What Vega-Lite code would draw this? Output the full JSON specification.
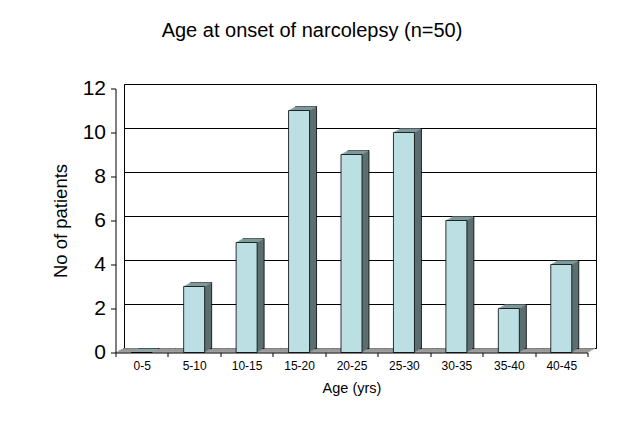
{
  "$schema": "https://vega.github.io/schema/vega-lite/v6.json",
  "width": 472,
  "height": 264,
  "autosize": "none",
  "padding": {"left": 124, "top": 84, "right": 42, "bottom": 77},
  "background": "white",
  "title": {
    "text": "Age at onset of narcolepsy (n=50)",
    "font": "Liberation Sans",
    "fontSize": 20,
    "fontWeight": "normal",
    "color": "black",
    "anchor": "middle",
    "dx": -48,
    "offset": 37
  },
  "data": {
    "values": [
      {"age": "0-5", "n": 0},
      {"age": "5-10", "n": 3},
      {"age": "10-15", "n": 5},
      {"age": "15-20", "n": 11},
      {"age": "20-25", "n": 9},
      {"age": "25-30", "n": 10},
      {"age": "30-35", "n": 6},
      {"age": "35-40", "n": 2},
      {"age": "40-45", "n": 4}
    ]
  },
  "encoding": {
    "x": {
      "field": "age",
      "type": "ordinal",
      "sort": null,
      "scale": {"paddingInner": 0, "paddingOuter": 0},
      "axis": {
        "title": "Age (yrs)",
        "labelAngle": 0,
        "tickBand": "extent",
        "offset": 4.5,
        "position": -8.5,
        "grid": false,
        "domainColor": "black",
        "tickColor": "black",
        "tickSize": 4,
        "labelFont": "Liberation Sans",
        "labelFontSize": 12,
        "labelColor": "black",
        "labelPadding": 4,
        "titleFont": "Liberation Sans",
        "titleFontSize": 14.5,
        "titleFontWeight": "normal",
        "titleColor": "black",
        "titlePadding": 10,
        "zindex": 1
      }
    },
    "y": {
      "field": "n",
      "type": "quantitative",
      "scale": {"domain": [0, 12], "nice": false},
      "axis": null
    }
  },
  "layer": [
    {
      "mark": {"type": "bar", "width": {"band": 1}, "color": "#808080", "xOffset": -7.44, "yOffset": 3.375, "y2Offset": 4.5},
      "encoding": {"y": {"datum": 0, "type": "quantitative", "scale": {"domain": [0, 12], "nice": false}, "axis": null}, "y2": {"datum": 0}}
    },
    {
      "mark": {"type": "bar", "width": {"band": 1}, "color": "#808080", "xOffset": -5.31, "yOffset": 2.25, "y2Offset": 3.375},
      "encoding": {"y": {"datum": 0, "type": "quantitative", "scale": {"domain": [0, 12], "nice": false}, "axis": null}, "y2": {"datum": 0}}
    },
    {
      "mark": {"type": "bar", "width": {"band": 1}, "color": "#808080", "xOffset": -3.19, "yOffset": 1.125, "y2Offset": 2.25},
      "encoding": {"y": {"datum": 0, "type": "quantitative", "scale": {"domain": [0, 12], "nice": false}, "axis": null}, "y2": {"datum": 0}}
    },
    {
      "mark": {"type": "bar", "width": {"band": 1}, "color": "#808080", "xOffset": -1.06, "yOffset": 0, "y2Offset": 1.125},
      "encoding": {"y": {"datum": 0, "type": "quantitative", "scale": {"domain": [0, 12], "nice": false}, "axis": null}, "y2": {"datum": 0}}
    },
    {
      "mark": {"type": "bar", "width": 21, "color": "#5B6F70", "stroke": "black", "strokeWidth": 0.8, "xOffset": -1.5, "yOffset": 0.5, "y2Offset": 0.5},
      "encoding": {
        "y": {
          "field": "n",
          "type": "quantitative",
          "scale": {"domain": [0, 12], "nice": false},
          "axis": {
            "orient": "left",
            "values": [0, 2, 4, 6, 8, 10, 12],
            "grid": true,
            "gridColor": "black",
            "gridWidth": 1,
            "gridOpacity": 1,
            "domain": false,
            "ticks": false,
            "labels": false,
            "title": null
          }
        }
      }
    },
    {"mark": {"type": "bar", "width": 21, "color": "#5B6F70", "xOffset": -3.25, "yOffset": 1.5, "y2Offset": 1.5}},
    {"mark": {"type": "bar", "width": 21, "color": "#5B6F70", "xOffset": -5, "yOffset": 2.5, "y2Offset": 2.5}},
    {"mark": {"type": "bar", "width": 21, "color": "#5B6F70", "xOffset": -6.75, "yOffset": 3.5, "y2Offset": 3.5}},
    {"mark": {"type": "bar", "width": 21, "color": "#8DA7A9", "xOffset": -2.375, "yOffset": 0.5, "y2Offset": 1.5}, "encoding": {"y2": {"field": "n"}}},
    {"mark": {"type": "bar", "width": 21, "color": "#8DA7A9", "xOffset": -4.125, "yOffset": 1.5, "y2Offset": 2.5}, "encoding": {"y2": {"field": "n"}}},
    {"mark": {"type": "bar", "width": 21, "color": "#8DA7A9", "xOffset": -5.875, "yOffset": 2.5, "y2Offset": 3.5}, "encoding": {"y2": {"field": "n"}}},
    {"mark": {"type": "bar", "width": 21, "color": "#8DA7A9", "xOffset": -7.625, "yOffset": 3.5, "y2Offset": 4.5}, "encoding": {"y2": {"field": "n"}}},
    {
      "mark": {"type": "bar", "width": 21, "color": "#BCDFE3", "stroke": "black", "strokeWidth": 0.8, "xOffset": -8.5, "yOffset": 4.5, "y2Offset": 4.5},
      "encoding": {
        "y": {
          "field": "n",
          "type": "quantitative",
          "scale": {"domain": [0, 12], "nice": false},
          "axis": {
            "orient": "left",
            "title": "No of patients",
            "values": [0, 2, 4, 6, 8, 10, 12],
            "offset": 8.5,
            "position": 4.5,
            "grid": false,
            "domainColor": "black",
            "tickColor": "black",
            "tickSize": 5,
            "labelFont": "Liberation Sans",
            "labelFontSize": 21,
            "labelColor": "black",
            "labelPadding": 5,
            "titleFont": "Liberation Sans",
            "titleFontSize": 18.5,
            "titleFontWeight": "normal",
            "titleColor": "black",
            "titlePadding": 12,
            "zindex": 1
          }
        }
      }
    }
  ],
  "resolve": {"axis": {"y": "independent"}},
  "config": {
    "view": {"stroke": "black", "strokeWidth": 1},
    "font": "Liberation Sans"
  }
}
